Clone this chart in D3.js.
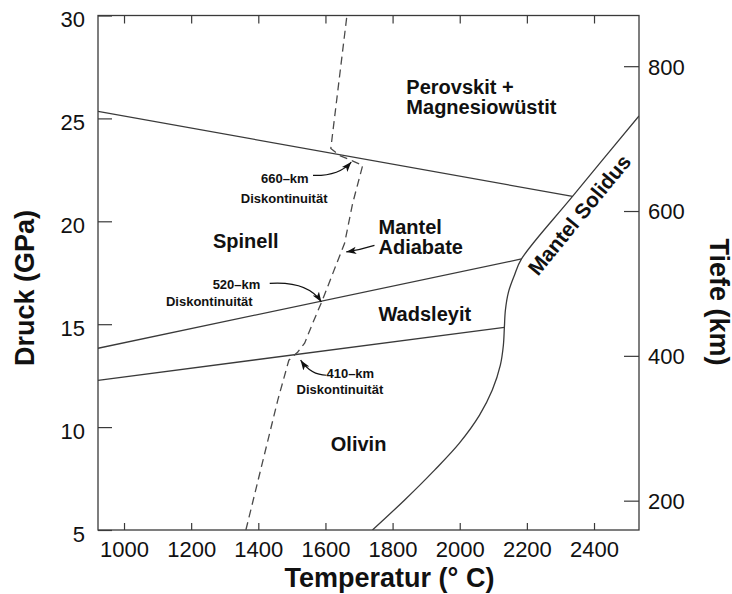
<!DOCTYPE html>
<html>
<head>
<meta charset="utf-8">
<script src="https://cdn.jsdelivr.net/npm/d3@7"></script>
<style>
  html, body { margin: 0; padding: 0; background: #fff; }
  svg { display: block; }
  text { font-family: "Liberation Sans", Arial, Helvetica, sans-serif; fill: #111; }
</style>
</head>
<body>
<svg id="chart" width="732" height="594"></svg>
<script>
// Axis ticks
const tempTicks = [1000, 1200, 1400, 1600, 1800, 2000, 2200, 2400];
const pressureTicks = [5, 10, 15, 20, 25, 30];
const depthTicks = [200, 400, 600, 800];

// Phase boundaries [temperature °C, pressure GPa]
const boundary660 = [[922.5, 25.34], [2336, 21.21]];
const boundary520 = [[922.5, 13.83], [2184, 18.17]];
const boundary410 = [[922.5, 12.27], [2133, 14.85]];

// Mantle solidus
const solidus = [[1740, 5], [1836, 6.46], [1925, 7.91], [1999, 9.22], [2059, 10.58],
  [2097, 11.80], [2121, 13.01], [2130, 13.98], [2133, 14.85], [2136, 15.68],
  [2145, 16.55], [2163, 17.38], [2184, 18.17], [2336, 21.21], [2534, 25.12]];

// Mantle adiabat (dashed)
const adiabat = [[1363, 5], [1458, 11.31], [1491, 13.25], [1517, 13.64], [1538, 14.08],
  [1562, 15.05], [1592, 16.21], [1622, 17.47], [1657, 18.93], [1681, 20.87],
  [1711, 22.72], [1642, 23.20], [1616, 23.54], [1664, 30]];

// Phase field labels: lines, anchor [T, P] of first baseline
const fieldLines = [["Perovskit +", "Magnesiowüstit"], ["Mantel", "Adiabate"], ["Spinell"], ["Wadsleyit"], ["Olivin"]];
const fieldAnchors = [[1841, 26.20], [1758, 19.40], [1265, 18.69], [1758, 15.16], [1616, 8.83]];

// Discontinuity labels
const discLabels = ["660–km", "Diskontinuität", "520–km", "Diskontinuität", "410–km", "Diskontinuität"];
const discAnchors = [[1479, 21.86], [1477, 20.87], [1264, 16.70], [1125, 15.90], [1603, 12.40], [1514, 11.62]];
const discAlign = ["middle", "middle", "start", "start", "start", "start"];

// Curved arrows: start, control, end in [T, P]
const arrows = [
  [[1563, 22.23], [1640, 22.20], [1677, 22.88]],
  [[1434, 16.98], [1547, 17.10], [1588, 16.08]],
  [[1603, 12.52], [1557, 12.52], [1526, 13.25]],
  [[1746, 18.83], [1705, 18.62], [1662, 18.51]]
];

const svg = d3.select("#chart");
const L = 98, R = 639, T = 15.5, B = 530;

const x = d3.scaleLinear().domain([922.5, 2534]).range([L, R]);
const y = d3.scaleLinear().domain([5, 30]).range([B, T]);
const yDepth = d3.scaleLinear().domain([159.5, 870]).range([B, T]);

svg.append("defs").append("clipPath").attr("id", "plotclip")
  .append("rect").attr("x", L).attr("y", T).attr("width", R - L).attr("height", B - T);

const marker = svg.select("defs").append("marker")
  .attr("id", "head").attr("markerUnits", "userSpaceOnUse")
  .attr("viewBox", "0 -4 10 8").attr("refX", 10).attr("refY", 0)
  .attr("markerWidth", 10).attr("markerHeight", 8).attr("orient", "auto");
marker.append("path").attr("d", "M0,-3.6L10,0L0,3.6L2.5,0Z").attr("fill", "#111");

const ink = "#3a3a3a";

// Axes with inward ticks
const axisStyle = (g, dy) => {
  g.select(".domain").remove();
  g.selectAll(".tick line").attr("stroke", ink).attr("stroke-width", 1.2);
  const tx = g.selectAll(".tick text").attr("fill", "#111")
    .style("font-family", '"Liberation Sans", Arial, sans-serif').style("font-size", "22px");
  if (dy) tx.attr("dy", dy);
};

svg.append("g").attr("transform", `translate(0,${B})`)
  .call(d3.axisBottom(x).tickValues(tempTicks).tickFormat(d3.format("d")).tickSizeInner(-7).tickPadding(11.5))
  .call(axisStyle);

svg.append("g").attr("transform", `translate(0,${T})`)
  .call(d3.axisTop(x).tickValues(tempTicks).tickFormat("").tickSizeInner(-8))
  .call(axisStyle);

svg.append("g").attr("transform", `translate(${L},0)`)
  .call(d3.axisLeft(y).tickValues(pressureTicks).tickFormat(d3.format("d")).tickSizeInner(-14).tickPadding(13))
  .call(axisStyle, "0.5em");

svg.append("g").attr("transform", `translate(${R},0)`)
  .call(d3.axisRight(yDepth).tickValues(depthTicks).tickFormat(d3.format("d")).tickSizeInner(-15).tickPadding(9))
  .call(axisStyle, "0.36em");

// Frame
svg.append("rect").attr("x", L).attr("y", T).attr("width", R - L).attr("height", B - T)
  .attr("fill", "none").attr("stroke", ink).attr("stroke-width", 1.3);

const plot = svg.append("g").attr("clip-path", "url(#plotclip)");
const lineGen = d3.line().x(d => x(d[0])).y(d => y(d[1]));

[boundary660, boundary520, boundary410].forEach(b => {
  plot.append("path").attr("d", lineGen(b)).attr("fill", "none")
    .attr("stroke", ink).attr("stroke-width", 1.3);
});

plot.append("path")
  .attr("d", lineGen.curve(d3.curveCatmullRom.alpha(0.5))(solidus))
  .attr("fill", "none").attr("stroke", ink).attr("stroke-width", 1.3);
lineGen.curve(d3.curveLinear);

plot.append("path").attr("d", lineGen(adiabat)).attr("fill", "none")
  .attr("stroke", "#4a4a4a").attr("stroke-width", 1.3).attr("stroke-dasharray", "8,5");

// Arrows
arrows.forEach(a => {
  const [s, c, e] = a;
  svg.append("path")
    .attr("d", `M${x(s[0])},${y(s[1])}Q${x(c[0])},${y(c[1])} ${x(e[0])},${y(e[1])}`)
    .attr("fill", "none").attr("stroke", "#111").attr("stroke-width", 1.2)
    .attr("marker-end", "url(#head)");
});

// Phase field labels
fieldLines.forEach((lines, i) => {
  const t = svg.append("text").attr("x", x(fieldAnchors[i][0])).attr("y", y(fieldAnchors[i][1]))
    .style("font-size", "20px").style("font-weight", "bold");
  lines.forEach((ln, j) => {
    t.append("tspan").attr("x", x(fieldAnchors[i][0])).attr("dy", j === 0 ? 0 : 20.7).text(ln);
  });
});

// Discontinuity labels
discLabels.forEach((lbl, i) => {
  svg.append("text").attr("x", x(discAnchors[i][0])).attr("y", y(discAnchors[i][1]))
    .attr("text-anchor", discAlign[i])
    .style("font-size", "13px").style("font-weight", "bold").text(lbl);
});

// Solidus label along the straight upper segment
{
  const p0 = solidus[solidus.length - 3], p1 = solidus[solidus.length - 1];
  const ang = Math.atan2(y(p1[1]) - y(p0[1]), x(p1[0]) - x(p0[0])) * 180 / Math.PI;
  const tMid = 2318;
  const pMid = p0[1] + (tMid - p0[0]) * (p1[1] - p0[1]) / (p1[0] - p0[0]);
  svg.append("text")
    .attr("transform", `translate(${x(tMid)},${y(pMid)}) rotate(${ang})`)
    .attr("text-anchor", "middle").attr("dy", 24)
    .style("font-size", "21px").style("font-weight", "bold").text("Mantel Solidus");
}

// Axis titles
svg.append("text").attr("x", 389.5).attr("y", 587).attr("text-anchor", "middle")
  .style("font-size", "27px").style("font-weight", "bold").text("Temperatur (° C)");
svg.append("text").attr("transform", "translate(33.5,288) rotate(-90)").attr("text-anchor", "middle")
  .style("font-size", "27px").style("font-weight", "bold").text("Druck (GPa)");
svg.append("text").attr("transform", "translate(709.5,302) rotate(90)").attr("text-anchor", "middle")
  .style("font-size", "27px").style("font-weight", "bold").text("Tiefe (km)");
</script>
</body>
</html>
